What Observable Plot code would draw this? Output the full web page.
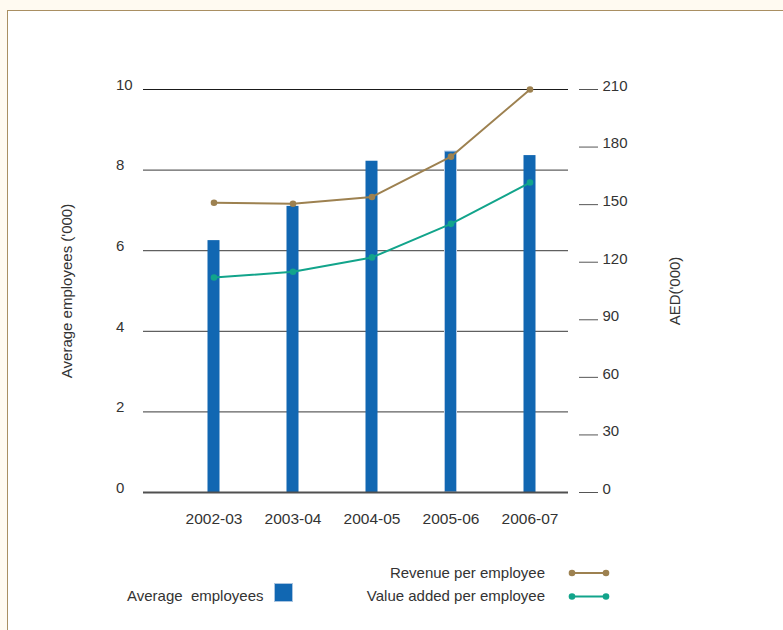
<!DOCTYPE html>
<html>
<head>
<meta charset="utf-8">
<script src="https://cdn.jsdelivr.net/npm/d3@7"></script>
<script src="https://cdn.jsdelivr.net/npm/@observablehq/plot@0.6"></script>
<style>
  html, body { margin: 0; padding: 0; }
  body { width: 783px; height: 630px; background: #fffaf1; position: relative; overflow: hidden;
         font-family: "Liberation Sans", Arial, Helvetica, sans-serif; color: #333; }
  #panel { position: absolute; left: 7px; top: 10px; right: 0; bottom: 0; background: #fff;
           border-top: 1px solid #a98f62; border-left: 1px solid #a98f62; }
  #chart { position: absolute; left: 0; top: 0; }
  .lg { position: absolute; font-size: 15px; line-height: 18px; white-space: pre; color: #333; }
  .sw { position: absolute; }
</style>
</head>
<body>
<div id="panel"></div>
<div id="chart"></div>
<div class="lg" style="left:127px; top:587px;">Average  employees</div>
<div class="sw" style="left:274px; top:583px; width:17px; height:17px; background:#1167b2; border:1px solid #a9c4e0;"></div>
<div class="lg" style="right:238px; top:564px; text-align:right;">Revenue per employee</div>
<div class="lg" style="right:238px; top:587px; text-align:right;">Value added per employee</div>
<svg class="sw" style="left:566px; top:565px;" width="50" height="40">
  <line x1="6" y1="8" x2="40" y2="8" stroke="#9d8150" stroke-width="2"/>
  <circle cx="6" cy="8" r="3.3" fill="#9d8150"/><circle cx="40" cy="8" r="3.3" fill="#9d8150"/>
  <line x1="6" y1="31.5" x2="40" y2="31.5" stroke="#12a48b" stroke-width="2"/>
  <circle cx="6" cy="31.5" r="3.3" fill="#12a48b"/><circle cx="40" cy="31.5" r="3.3" fill="#12a48b"/>
</svg>
<script>
const years = ["2002-03", "2003-04", "2004-05", "2005-06", "2006-07"];
const avgEmployees = [6.25, 7.1, 8.22, 8.46, 8.36];
const revenuePerEmployee = [151, 150.5, 154, 175, 210];
const valueAddedPerEmployee = [112, 115, 122.5, 140, 161.5];
const leftTicks = [0, 2, 4, 6, 8, 10];
const rightTicks = [0, 30, 60, 90, 120, 150, 180, 210];
const leftTitle = "Average employees ('000)";
const rightTitle = "AED('000)";

const rightMax = 210, leftMax = 10;
const toLeft = v => v * leftMax / rightMax;

const rows = years.map((y, i) => ({
  year: y,
  emp: avgEmployees[i],
  rev: revenuePerEmployee[i],
  va: valueAddedPerEmployee[i]
}));

const brown = "#9d8150", teal = "#12a48b", blue = "#1167b2";

const chart = Plot.plot({
  width: 783,
  height: 540,
  marginTop: 89,
  marginBottom: 48,
  marginLeft: 173,
  marginRight: 213,
  style: { fontFamily: "Liberation Sans, Arial, Helvetica, sans-serif", fontSize: "15px", color: "#333", background: "transparent" },
  x: { type: "band", domain: years, padding: 0 },
  y: { domain: [0, leftMax] },
  marks: [
    Plot.ruleY(leftTicks.filter(v => v > 0 && v < leftMax), { stroke: "#606060", strokeWidth: 1.2, insetLeft: -30, insetRight: 2 }),
    Plot.ruleY([leftMax], { stroke: "#1a1a1a", strokeWidth: 1.2, insetLeft: -30, insetRight: 2 }),
    Plot.barY(rows, { x: "year", y: "emp", fill: blue, insetLeft: 33.5, insetRight: 33.5,
      stroke: d => d.year === "2005-06" ? "#b3cae6" : "none", strokeWidth: 1 }),
    Plot.ruleY([0], { stroke: "#505050", strokeWidth: 2, insetLeft: -30, insetRight: 2 }),
    Plot.line(rows, { x: "year", y: d => toLeft(d.rev), stroke: brown, strokeWidth: 2 }),
    Plot.dot(rows, { x: "year", y: d => toLeft(d.rev), r: 3.3, fill: brown }),
    Plot.line(rows, { x: "year", y: d => toLeft(d.va), stroke: teal, strokeWidth: 2 }),
    Plot.dot(rows, { x: "year", y: d => toLeft(d.va), r: 3.3, fill: teal }),
    Plot.axisX({ tickSize: 0, tickPadding: 20, fontSize: 15.5, label: null, fill: "#333" }),
    Plot.axisY({ ticks: leftTicks, tickSize: 0, tickPadding: 0, textAnchor: "start", dx: -57.5, dy: -4.5, fontSize: 15, label: null, fill: "#333" }),
    Plot.axisY({ anchor: "right", ticks: rightTicks.map(toLeft), tickSize: 19, dx: 8, tickFormat: () => "", label: null, stroke: "#555" }),
    Plot.axisY({ anchor: "right", ticks: rightTicks.map(toLeft), tickSize: 0, tickPadding: 32, dy: -3.5, textAnchor: "start", fontSize: 15, tickFormat: d => Math.round(d * rightMax / leftMax), label: null, fill: "#333" }),
    Plot.text([leftTitle], { frameAnchor: "left", rotate: -90, dx: -106, textAnchor: "middle", fontSize: 15, fill: "#333" }),
    Plot.text([rightTitle], { frameAnchor: "right", rotate: -90, dx: 105, textAnchor: "middle", fontSize: 15, fill: "#333" })
  ]
});
document.getElementById("chart").appendChild(chart);
</script>
</body>
</html>
